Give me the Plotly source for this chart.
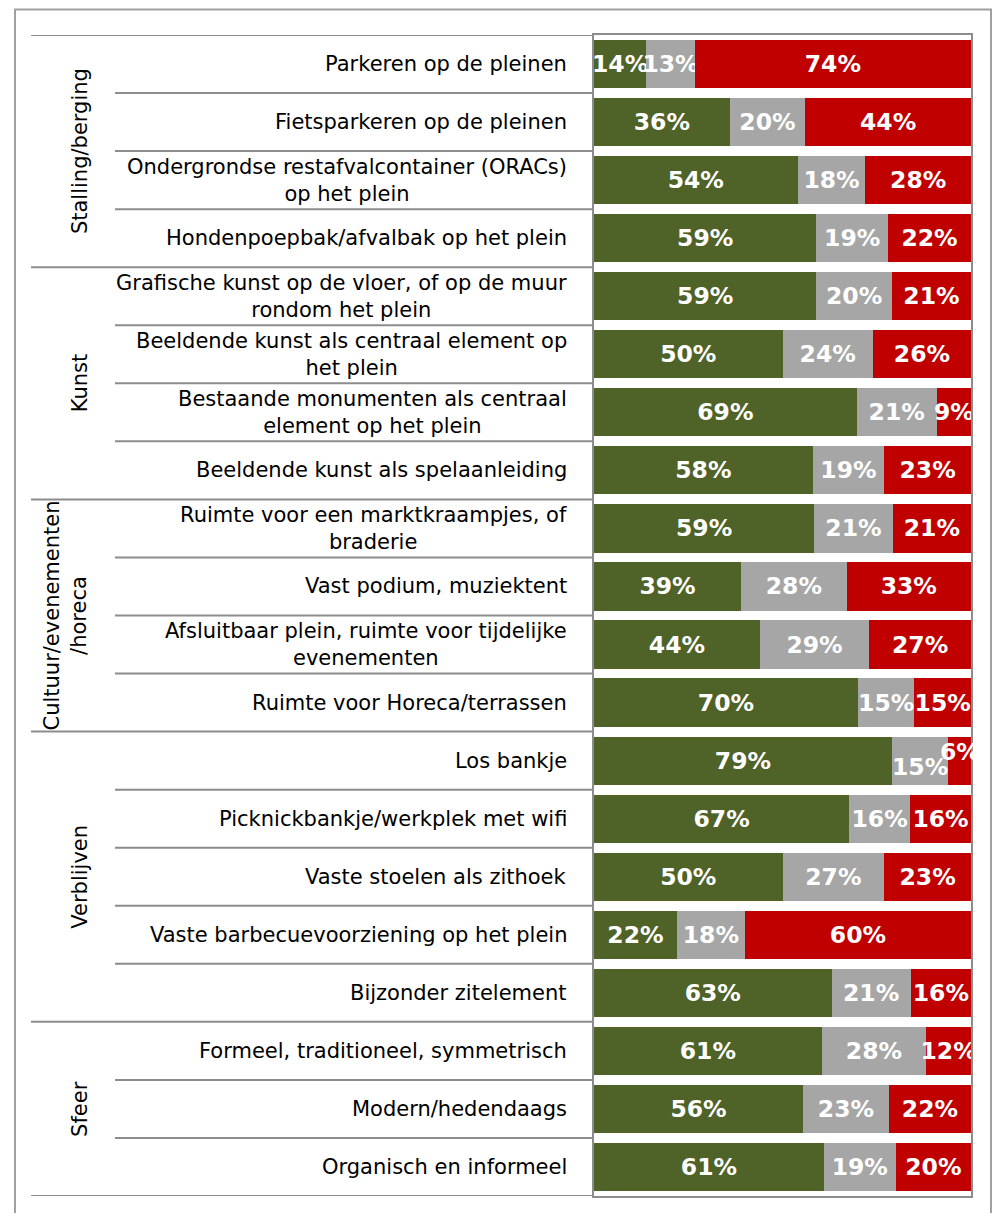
import plotly.graph_objects as go

categories = [
    "Parkeren op de pleinen",
    "Fietsparkeren op de pleinen",
    "Ondergrondse restafvalcontainer (ORACs)<br>op het plein",
    "Hondenpoepbak/afvalbak op het plein",
    "Grafische kunst op de vloer, of op de muur<br>rondom het plein",
    "Beeldende kunst als centraal element op<br>het plein",
    "Bestaande monumenten als centraal<br>element op het plein",
    "Beeldende kunst als spelaanleiding",
    "Ruimte voor een marktkraampjes, of<br>braderie",
    "Vast podium, muziektent",
    "Afsluitbaar plein, ruimte voor tijdelijke<br>evenementen",
    "Ruimte voor Horeca/terrassen",
    "Los bankje",
    "Picknickbankje/werkplek met wifi",
    "Vaste stoelen als zithoek",
    "Vaste barbecuevoorziening op het plein",
    "Bijzonder zitelement",
    "Formeel, traditioneel, symmetrisch",
    "Modern/hedendaags",
    "Organisch en informeel",
]
positive = [14, 36, 54, 59, 59, 50, 69, 58, 59, 39, 44, 70, 79, 67, 50, 22, 63, 61, 56, 61]
neutral = [13, 20, 18, 19, 20, 24, 21, 19, 21, 28, 29, 15, 15, 16, 27, 18, 21, 28, 23, 19]
negative = [74, 44, 28, 22, 21, 26, 9, 23, 21, 33, 27, 15, 6, 16, 23, 60, 16, 12, 22, 20]

groups = ["Stalling/berging", "Kunst", "Cultuur/evenementen<br>/horeca", "Verblijven", "Sfeer"]
group_sizes = [4, 4, 4, 5, 3]

# labels that were nudged vertically in the original (row index: {series index: shift px, + = up})
nudged = {12: {1: -6, 2: 9}}

colors = ["#4F6228", "#A6A6A6", "#C00000"]
FONT = "DejaVu Sans"

# page body has an 8px margin; figure coords = page coords - 8
OFF = 8
W, H = 984, 1205
L = 594 - OFF
R = W - (971 - OFF)
T = 35 - OFF
B = H - (1196 - OFF)
pw = W - L - R
ph = H - T - B


def px2paper(page_x):
    return (page_x - OFF - L) / pw


def py2paper(page_y):
    return (H - B - (page_y - OFF)) / ph


series = [positive, neutral, negative]
fig = go.Figure()
for si, (vals, col) in enumerate(zip(series, colors)):
    texts = []
    for ri, v in enumerate(vals):
        if ri in nudged and si in nudged[ri]:
            texts.append("")
        else:
            texts.append(f"{v}%")
    fig.add_trace(go.Bar(
        y=categories, x=vals, orientation="h",
        marker=dict(color=col, line=dict(width=0)),
        text=texts,
        textposition="inside", insidetextanchor="middle", textangle=0,
        constraintext="none",
        textfont=dict(family=FONT, size=23.5, color="white", weight="bold"),
        showlegend=False, hoverinfo="skip",
    ))

n = len(categories)
line_col = "#8C8C8C"
shapes = []
bounds = [-0.5]
acc = -0.5
for s in group_sizes:
    acc += s
    bounds.append(acc)
for i in range(n + 1):
    yv = i - 0.5
    x0 = px2paper(31) if yv in bounds else px2paper(115)
    shapes.append(dict(type="line", xref="paper", yref="y", x0=x0, x1=0, y0=yv, y1=yv,
                       line=dict(color=line_col, width=2)))
# outer frame
shapes.append(dict(type="rect", xref="paper", yref="paper",
                   x0=px2paper(15), x1=px2paper(991),
                   y0=py2paper(1240), y1=py2paper(OFF + 1.5),
                   line=dict(color="#A0A0A0", width=2)))

annotations = []
for c in categories:
    annotations.append(dict(x=px2paper(569), y=c, xref="paper", yref="y", text=c,
                            showarrow=False, xanchor="right", yanchor="middle", align="center",
                            font=dict(family=FONT, size=21, color="black")))
start = 0
for g, s in zip(groups, group_sizes):
    center = start + (s - 1) / 2
    gx = 80 if "<br>" not in g else 65
    annotations.append(dict(x=px2paper(gx), y=center, xref="paper", yref="y", text=g,
                            showarrow=False, textangle=-90, xanchor="center", yanchor="middle",
                            align="center",
                            font=dict(family=FONT, size=21, color="black")))
    start += s

for ri, d in nudged.items():
    total = sum(sv[ri] for sv in series)
    for si in range(3):
        if si not in d:
            continue
        v = series[si][ri]
        mid = (sum(series[k][ri] for k in range(si)) + v / 2) / total * 100
        annotations.append(dict(x=mid, y=categories[ri], xref="x", yref="y", text=f"{v}%",
                                showarrow=False, xanchor="center", yanchor="middle",
                                yshift=d[si],
                                font=dict(family=FONT, size=23.5, color="white", weight="bold")))

fig.update_layout(
    width=W, height=H,
    margin=dict(l=L, r=R, t=T, b=B),
    barmode="stack", barnorm="percent", bargap=0.17,
    paper_bgcolor="white", plot_bgcolor="white",
    xaxis=dict(range=[0, 100], showticklabels=False, showgrid=False, zeroline=False,
               showline=True, mirror=True, linecolor=line_col, linewidth=2, ticks=""),
    yaxis=dict(range=[n - 0.5, -0.5], showticklabels=False, showgrid=False, zeroline=False,
               showline=True, mirror=True, linecolor=line_col, linewidth=2, ticks=""),
    shapes=shapes, annotations=annotations,
    uniformtext=dict(minsize=23.5, mode="show"),
)

fig.write_html("out.html")
